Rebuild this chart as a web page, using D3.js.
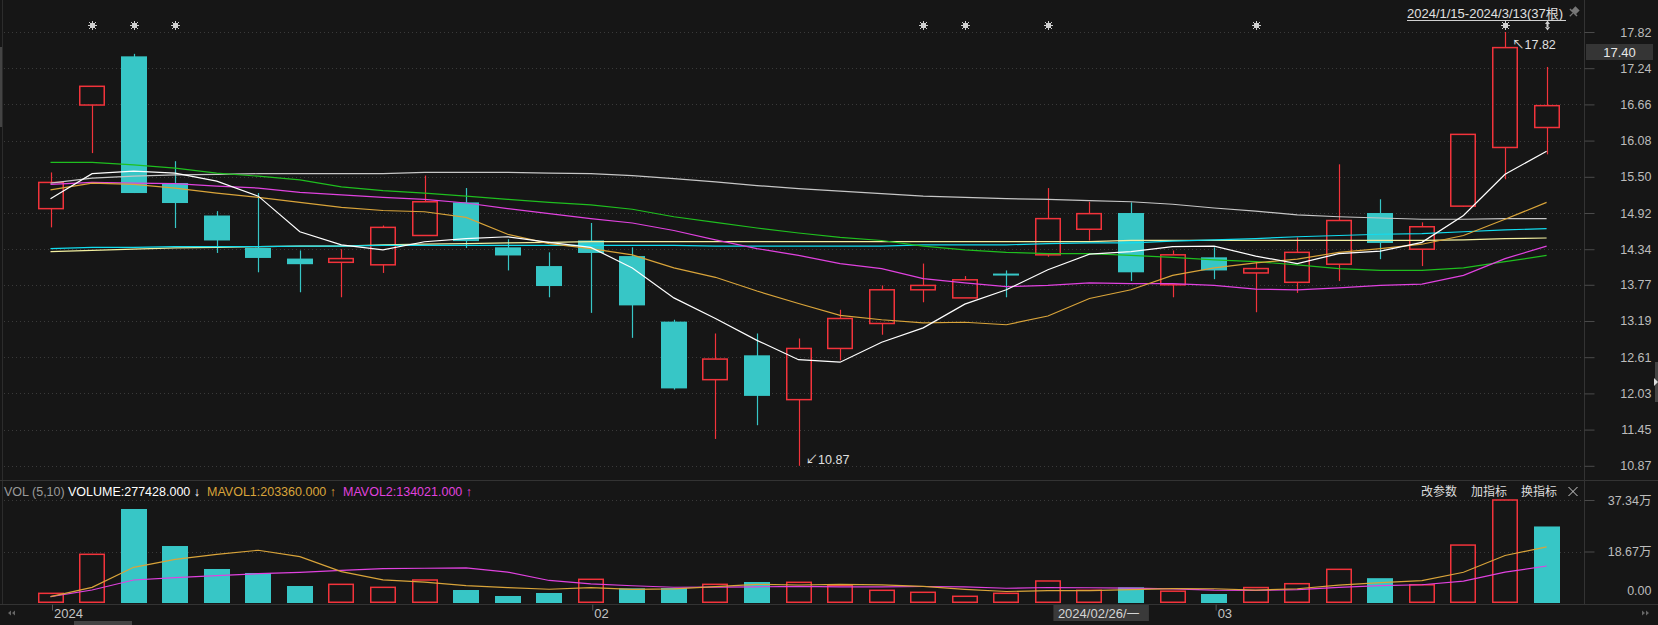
<!DOCTYPE html>
<html><head><meta charset="utf-8">
<script src="https://cdn.jsdelivr.net/npm/d3@7"></script>
<style>
body{margin:0;background:#161616;overflow:hidden}
svg{display:block}
text{font-family:"Liberation Sans","Noto Sans CJK SC","DejaVu Sans",sans-serif}
</style>
</head><body>
<svg id="c" width="1658" height="625"></svg>
<script>
// ---------------- data ----------------
const dates = ["2024-01-15","2024-01-16","2024-01-17","2024-01-18","2024-01-19","2024-01-22","2024-01-23","2024-01-24","2024-01-25","2024-01-26","2024-01-29","2024-01-30","2024-01-31","2024-02-01","2024-02-02","2024-02-05","2024-02-06","2024-02-07","2024-02-08","2024-02-19","2024-02-20","2024-02-21","2024-02-22","2024-02-23","2024-02-26","2024-02-27","2024-02-28","2024-02-29","2024-03-01","2024-03-04","2024-03-05","2024-03-06","2024-03-07","2024-03-08","2024-03-11","2024-03-12","2024-03-13"];
const open  = [14.99,16.65,17.43,15.40,14.88,14.36,14.19,14.13,14.09,14.56,15.09,14.37,14.07,14.48,14.23,13.18,12.25,12.64,11.93,12.75,13.15,13.69,13.56,13.95,14.25,14.66,14.92,13.77,14.21,13.96,13.81,14.10,14.92,14.34,15.03,15.97,16.29];
const high  = [15.57,16.95,17.47,15.75,14.95,15.24,14.32,14.34,14.72,15.52,15.32,14.50,14.29,14.76,14.37,13.21,12.99,12.99,12.91,13.37,13.76,14.11,13.91,14.00,15.32,15.10,15.09,14.32,14.37,14.14,14.53,15.70,15.14,14.77,16.18,17.82,17.26];
const low   = [14.69,15.88,15.24,14.68,14.28,13.97,13.65,13.57,13.96,14.56,14.36,14.00,13.57,13.32,12.92,12.09,11.30,11.52,10.87,12.56,12.97,13.49,13.56,13.57,14.22,14.48,13.83,13.57,13.86,13.33,13.64,13.83,14.18,14.07,15.02,15.46,15.86];
const close = [15.41,16.95,15.24,15.08,14.48,14.20,14.10,14.19,14.69,15.10,14.47,14.24,13.75,14.28,13.44,12.11,12.58,11.99,12.75,13.23,13.69,13.76,13.85,13.93,14.83,14.91,13.97,14.25,14.00,14.03,14.29,14.80,14.44,14.70,16.18,17.57,16.64];
const volume = [35000,176500,340800,206600,123300,108800,61600,67700,56800,83400,47100,25400,36300,85900,53200,54400,67700,76100,75000,64200,46000,38800,24300,35100,79800,46000,56800,42800,32600,56000,70000,122000,90000,66000,210000,373400,277428];

const ma5   = [15.15,15.55,15.59,15.56,15.43,15.19,14.62,14.41,14.33,14.46,14.51,14.54,14.45,14.37,14.04,13.56,13.23,12.88,12.57,12.53,12.85,13.08,13.46,13.69,14.01,14.26,14.30,14.38,14.39,14.23,14.11,14.27,14.31,14.45,14.88,15.54,15.91];
const ma10  = [15.29,15.40,15.38,15.32,15.24,15.17,15.09,15.01,14.96,14.94,14.85,14.58,14.43,14.35,14.25,14.04,13.89,13.67,13.47,13.28,13.21,13.16,13.17,13.13,13.27,13.55,13.69,13.92,14.04,14.12,14.18,14.29,14.35,14.42,14.56,14.82,15.09];
const ma20  = [15.38,15.41,15.40,15.39,15.35,15.32,15.25,15.21,15.17,15.14,15.08,14.99,14.91,14.83,14.76,14.64,14.49,14.35,14.24,14.11,14.03,13.87,13.80,13.74,13.76,13.80,13.79,13.79,13.76,13.70,13.69,13.72,13.76,13.78,13.92,14.19,14.39];
const ma30  = [15.73,15.73,15.69,15.64,15.56,15.51,15.45,15.34,15.28,15.24,15.19,15.14,15.09,15.05,14.98,14.86,14.77,14.68,14.60,14.53,14.48,14.39,14.33,14.29,14.27,14.27,14.24,14.21,14.17,14.14,14.09,14.03,14.00,14.00,14.04,14.14,14.24];
const ma60  = [15.40,15.48,15.51,15.53,15.54,15.55,15.55,15.55,15.55,15.57,15.57,15.57,15.56,15.55,15.52,15.47,15.42,15.36,15.31,15.27,15.23,15.19,15.17,15.15,15.14,15.12,15.10,15.06,15.00,14.95,14.89,14.86,14.84,14.82,14.82,14.83,14.83];
const ma120 = [14.35,14.37,14.37,14.38,14.38,14.38,14.39,14.39,14.40,14.40,14.40,14.40,14.40,14.40,14.40,14.40,14.39,14.39,14.39,14.39,14.39,14.41,14.41,14.41,14.43,14.44,14.44,14.47,14.49,14.51,14.54,14.56,14.58,14.59,14.62,14.65,14.67];
const ma250 = [14.30,14.32,14.34,14.36,14.37,14.38,14.39,14.39,14.41,14.42,14.43,14.44,14.45,14.46,14.46,14.46,14.46,14.46,14.46,14.46,14.46,14.46,14.46,14.46,14.46,14.46,14.48,14.48,14.48,14.48,14.48,14.48,14.48,14.48,14.49,14.51,14.52];
const mavol1 = [22900,56800,129400,158300,176440,191200,168220,113600,83640,75660,63320,56080,49800,55620,49580,51040,59500,67460,65280,67480,65800,60020,49660,41680,44800,44800,48400,52100,51600,46840,51640,64680,74120,80800,111600,172280,203366];
const mavol2 = [22900,47100,83400,91800,99100,106300,111200,118400,124400,126050,127260,112150,81700,69630,62620,57180,57790,58630,60450,58530,58420,59760,58560,53480,56140,55300,54210,50880,46640,45820,48220,56540,63110,66200,79220,111960,134021];

const priceTicks = [17.82,17.24,16.66,16.08,15.50,14.92,14.34,13.77,13.19,12.61,12.03,11.45,10.87];
const volTicks = [0,186700,373400];
const volTickLabels = ["0.00","18.67万","37.34万"];
const monthTickIdx = [0,13,28];
const monthTickLabels = ["2024","02","03"];
const markerIdx = [1,2,3,21,22,24,29,35];
const lastPrice = "17.40";
const rangeLabel = "2024/1/15-2024/3/13(37根)";
const crossDate = "2024/02/26/一";
const crossIdx = 24;

// ---------------- setup ----------------
const RED = "#f2333b", CYAN = "#37c6c6", BG = "#161616";
const svg = d3.select("#c");
svg.append("rect").attr("width",1658).attr("height",625).attr("fill",BG);

const x = d3.scalePoint().domain(d3.range(dates.length)).range([50.5,1546.6]);
const bw = Math.round(x.step()*0.63);
const y = d3.scaleLinear().domain([10.87,17.82]).range([465.8,32]);
const yv = d3.scaleLinear().domain([0,373400]).range([603,500]);
const AXX = 1584.5;

// frame lines
svg.append("line").attr("x1",2.5).attr("x2",2.5).attr("y1",0).attr("y2",604).attr("stroke","#2c2c2c");
svg.append("rect").attr("x",0).attr("y",47).attr("width",2).attr("height",80).attr("fill","#444");
svg.append("line").attr("x1",0).attr("x2",1658).attr("y1",480.5).attr("y2",480.5).attr("stroke","#333");
svg.append("line").attr("x1",0).attr("x2",1658).attr("y1",604.5).attr("y2",604.5).attr("stroke","#333");
svg.append("line").attr("x1",AXX).attr("x2",AXX).attr("y1",0).attr("y2",604).attr("stroke","#333");
svg.append("rect").attr("x",1655).attr("y",362).attr("width",3).attr("height",40).attr("fill","#444");
svg.append("path").attr("d","M1654,378 L1658,382 L1654,386 Z").attr("fill","#ddd");

// grid
const grid = svg.append("g");
grid.selectAll("line.pg").data(priceTicks).join("line")
  .attr("x1",4).attr("x2",AXX).attr("y1",d=>Math.round(y(d))+0.5).attr("y2",d=>Math.round(y(d))+0.5)
  .attr("stroke","#3a3a3a").attr("stroke-dasharray","1,3");
grid.selectAll("line.vg").data(volTicks.slice(1)).join("line")
  .attr("x1",4).attr("x2",AXX).attr("y1",d=>Math.round(yv(d))+0.5).attr("y2",d=>Math.round(yv(d))+0.5)
  .attr("stroke","#3a3a3a").attr("stroke-dasharray","1,3");

// price axis
const pAxis = svg.append("g").attr("transform",`translate(${AXX},0)`)
  .call(d3.axisRight(y).tickValues(priceTicks).tickFormat(d=>d.toFixed(2)).tickSize(10).tickSizeOuter(0));
pAxis.select(".domain").remove();
pAxis.selectAll(".tick line").attr("stroke","#4a4a4a");
pAxis.selectAll(".tick text").attr("x",67).attr("text-anchor","end").attr("fill","#bcbcbc")
  .attr("font-size",12.5).attr("font-family",null);

// volume axis
const vAxis = svg.append("g").attr("transform",`translate(${AXX},0)`)
  .call(d3.axisRight(yv).tickValues(volTicks).tickFormat((d,i)=>volTickLabels[i]).tickSize(10).tickSizeOuter(0));
vAxis.select(".domain").remove();
vAxis.selectAll(".tick line").attr("stroke",(d)=>d===0?"none":"#4a4a4a");
vAxis.selectAll(".tick text").attr("x",67).attr("text-anchor","end").attr("fill","#bcbcbc")
  .attr("font-size",12.5).attr("font-family",null).attr("dy",(d)=>d===0?"-0.7em":"0.32em");

// current price box
svg.append("rect").attr("x",1586).attr("y",44).attr("width",67).attr("height",16).attr("fill","#353535");
svg.append("text").attr("x",1619.5).attr("y",56.5).attr("text-anchor","middle").attr("font-size",13)
  .attr("fill","#e8e8e8").text(lastPrice);

// ---------------- candles ----------------
const data = dates.map((d,i)=>({i,o:open[i],h:high[i],l:low[i],c:close[i],v:volume[i]}));
const cg = svg.append("g");
const px = i => Math.round(x(i))+0.5;
data.forEach(d=>{
  const up = d.c >= d.o;
  const col = up ? RED : CYAN;
  const top = Math.min(y(d.o),y(d.c)), bot = Math.max(y(d.o),y(d.c));
  const xl = Math.round(x(d.i)-bw/2);
  if(up){
    cg.append("line").attr("x1",px(d.i)).attr("x2",px(d.i)).attr("y1",y(d.h)).attr("y2",top).attr("stroke",col).attr("stroke-width",1.2);
    cg.append("line").attr("x1",px(d.i)).attr("x2",px(d.i)).attr("y1",bot).attr("y2",y(d.l)).attr("stroke",col).attr("stroke-width",1.2);
    cg.append("rect").attr("x",xl+0.75).attr("y",top).attr("width",bw-1.5).attr("height",Math.max(bot-top,1.5))
      .attr("fill","none").attr("stroke",col).attr("stroke-width",1.5);
  } else {
    cg.append("line").attr("x1",px(d.i)).attr("x2",px(d.i)).attr("y1",y(d.h)).attr("y2",y(d.l)).attr("stroke",col).attr("stroke-width",1.2);
    cg.append("rect").attr("x",xl).attr("y",top).attr("width",bw).attr("height",Math.max(bot-top,2)).attr("fill",col);
  }
});

// moving averages
const line = d3.line().x((d,i)=>x(i)).y(d=>y(d));
const maSeries = [[ma250,"#f3f0a0"],[ma120,"#12dcef"],[ma60,"#c6c6c6"],[ma30,"#1fbf1f"],[ma20,"#e042df"],[ma10,"#d9a43a"],[ma5,"#ffffff"]];
const mg = svg.append("g");
maSeries.forEach(([s,c])=>mg.append("path").attr("d",line(s)).attr("fill","none").attr("stroke",c).attr("stroke-width",1.2));

// markers
const mk = svg.append("g");
markerIdx.forEach(i=>{
  const cx = px(i), cy = 25.5;
  const g = mk.append("g").attr("transform",`translate(${cx},${cy})`);
  g.append("rect").attr("x",-2.5).attr("y",-2.5).attr("width",5).attr("height",5).attr("fill","#cfcfcf");
  g.append("path").attr("d","M-4.5,0H4.5M0,-4.5V4.5M-3.5,-3.5L3.5,3.5M-3.5,3.5L3.5,-3.5").attr("stroke","#cfcfcf").attr("stroke-width",1);
});
{
  const cx = px(dates.length-1);
  mk.append("path").attr("transform",`translate(${cx},25.5)`)
    .attr("d","M0,-5 L2.5,-1.5 L-2.5,-1.5 Z M0,5 L2.5,1.5 L-2.5,1.5 Z M-1,-2 H1 V2 H-1 Z").attr("fill","#cfcfcf");
}

// hi / lo annotations
const iMax = d3.maxIndex(high), iMin = d3.minIndex(low);
svg.append("text").attr("x",x(iMax)+7).attr("y",y(high[iMax])+17).attr("font-size",12.5).attr("fill","#e0e0e0")
  .text("↖"+high[iMax].toFixed(2));
svg.append("text").attr("x",x(iMin)+7).attr("y",y(low[iMin])-1.5).attr("font-size",12.5).attr("fill","#e0e0e0")
  .text("↙"+low[iMin].toFixed(2));

// range label
svg.append("text").attr("x",1407).attr("y",18).attr("font-size",13).attr("fill","#e0e0e0").text(rangeLabel);
svg.append("line").attr("x1",1407).attr("x2",1566).attr("y1",20.5).attr("y2",20.5).attr("stroke","#d0d0d0");
svg.append("path").attr("transform","translate(1574,12) rotate(45)")
  .attr("d","M-3,-5 H3 V0 H-3 Z M-5,0 H5 V1.5 H-5 Z M-0.6,1.5 H0.6 V6 H-0.6 Z").attr("fill","#777");

// ---------------- volume ----------------
const vg = svg.append("g");
data.forEach(d=>{
  const up = d.i===0 || d.c >= close[d.i-1];
  const xl = Math.round(x(d.i)-bw/2);
  const top = yv(d.v), h = yv(0)-yv(d.v);
  if(up) vg.append("rect").attr("x",xl+0.75).attr("y",top).attr("width",bw-1.5).attr("height",h-0.75)
           .attr("fill","none").attr("stroke",RED).attr("stroke-width",1.5);
  else vg.append("rect").attr("x",xl).attr("y",top).attr("width",bw).attr("height",h).attr("fill",CYAN);
});
const vline = d3.line().x((d,i)=>x(i)).y(d=>yv(d));
vg.append("path").attr("d",vline(mavol2)).attr("fill","none").attr("stroke","#e042df").attr("stroke-width",1.2);
vg.append("path").attr("d",vline(mavol1)).attr("fill","none").attr("stroke","#d9a43a").attr("stroke-width",1.2);

// volume header
const hy = 495.5;
svg.append("text").attr("x",4).attr("y",hy).attr("font-size",12.5).attr("fill","#9a9a9a").text("VOL (5,10)");
svg.append("text").attr("x",68).attr("y",hy).attr("font-size",12.5).attr("fill","#ffffff").text("VOLUME:"+volume[volume.length-1].toFixed(3)+" ↓");
svg.append("text").attr("x",207).attr("y",hy).attr("font-size",12.5).attr("fill","#d9a43a").text("MAVOL1:203360.000 ↑");
svg.append("text").attr("x",343).attr("y",hy).attr("font-size",12.5).attr("fill","#e042df").text("MAVOL2:134021.000 ↑");
[["改参数",1421],["加指标",1471],["换指标",1521]].forEach(([t,xx])=>
  svg.append("text").attr("x",xx).attr("y",hy).attr("font-size",12).attr("fill","#dcdcdc").text(t));
svg.append("path").attr("d","M1568.5,487 L1577.5,496 M1577.5,487 L1568.5,496").attr("stroke","#cfcfcf").attr("stroke-width",1);

// ---------------- time axis ----------------
const xAxis = svg.append("g").attr("transform","translate(0,604.5)")
  .call(d3.axisBottom(x).tickValues(monthTickIdx).tickFormat((d,k)=>monthTickLabels[k]).tickSize(6).tickSizeOuter(0));
xAxis.select(".domain").remove();
xAxis.selectAll(".tick line").attr("stroke","#555").attr("transform","translate(1.5,0)");
xAxis.selectAll(".tick text").attr("x",3).attr("y",13.5).attr("dy",0).attr("text-anchor","start")
  .attr("fill","#c4c4c4").attr("font-size",13).attr("font-family",null);

// crosshair date box
svg.append("rect").attr("x",x(crossIdx)+5.5).attr("y",605).attr("width",95.5).attr("height",16).attr("fill","#3a3a3a");
svg.append("text").attr("x",x(crossIdx)+10).attr("y",618).attr("font-size",13).attr("fill","#d4d4d4").text(crossDate);

// nav arrows and scrollbar
svg.append("path").attr("d","M8,613 L11,610.5 V615.5 Z M12,613 L15,610.5 V615.5 Z").attr("fill","#666");
svg.append("path").attr("d","M1649,613 L1646,610.5 V615.5 Z M1645,613 L1642,610.5 V615.5 Z").attr("fill","#666");
svg.append("rect").attr("x",74).attr("y",621).attr("width",58).attr("height",4).attr("fill","#444");
</script>
</body></html>
